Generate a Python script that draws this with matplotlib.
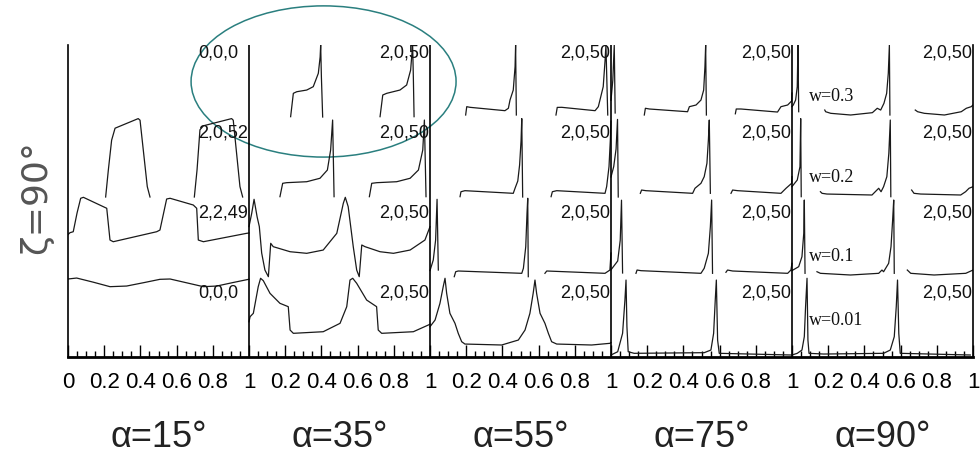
import matplotlib
matplotlib.use("Agg")
import matplotlib.pyplot as plt
from matplotlib.patches import Ellipse
import numpy as np

# panel titles and per-row labels (rows listed bottom -> top)
alphas = ["α=15°", "α=35°", "α=55°", "α=75°", "α=90°"]
labels_a15 = ["0,0,0", "2,2,49", "2,0,52", "0,0,0"]
labels_other = ["2,0,50", "2,0,50", "2,0,50", "2,0,50"]
w_labels = ["w=0.01", "w=0.1", "w=0.2", "w=0.3"]
tick_labels = ["0", "0.2", "0.4", "0.6", "0.8"] + ["1", "0.2", "0.4", "0.6", "0.8"] * 4 + ["1"]

# curves; per panel: rows bottom->top, each row a list of segments (x, y) in panel units
curves_a15 = [
    [[(0.0, 0.975), (0.048, 0.987), (0.14, 0.935), (0.232, 0.879), (0.324, 0.887), (0.42, 0.93),
      (0.508, 0.971), (0.564, 0.975), (0.66, 0.925), (0.748, 0.879), (0.822, 0.887), (0.91, 0.93), (1.0, 0.972)]],
    [[(0.0, 0.53), (0.011, 0.554), (0.029, 0.566), (0.050, 0.80), (0.070, 0.984), (0.085, 0.996),
      (0.195, 0.879), (0.214, 0.859), (0.232, 0.462), (0.250, 0.441), (0.490, 0.566), (0.508, 0.587),
      (0.545, 0.975), (0.564, 0.984), (0.692, 0.90), (0.711, 0.859), (0.72, 0.462), (0.748, 0.441),
      (0.987, 0.546), (1.0, 0.55)]],
    [[(0.208, 0.0), (0.223, 0.34), (0.241, 0.71), (0.26, 0.86), (0.324, 0.92), (0.388, 0.98),
      (0.398, 0.96), (0.438, 0.13), (0.453, 0.0)],
     [(0.698, 0.0), (0.713, 0.34), (0.729, 0.84), (0.748, 0.89), (0.904, 0.98), (0.913, 0.96),
      (0.950, 0.13), (0.965, 0.0)]],
    [],
]

curves_a35 = [
    [[(0.0, 0.44), (0.006, 0.504), (0.024, 0.546), (0.051, 0.879), (0.064, 0.984), (0.079, 0.954),
      (0.116, 0.796), (0.171, 0.671), (0.217, 0.629), (0.227, 0.337), (0.245, 0.296), (0.410, 0.316),
      (0.503, 0.421), (0.540, 0.629), (0.558, 0.962), (0.573, 0.984), (0.595, 0.921), (0.650, 0.712),
      (0.705, 0.629), (0.714, 0.337), (0.733, 0.296), (0.908, 0.316), (0.991, 0.40), (1.0, 0.41)]],
    [[(0.0, 0.63), (0.015, 0.796), (0.028, 0.971), (0.045, 0.75), (0.057, 0.63), (0.07, 0.30),
      (0.088, 0.087), (0.107, 0.004), (0.12, 0.421), (0.134, 0.379), (0.227, 0.316), (0.319, 0.296),
      (0.410, 0.337), (0.485, 0.546), (0.521, 0.921), (0.532, 0.996), (0.548, 0.879), (0.576, 0.379),
      (0.595, 0.087), (0.609, 0.004), (0.623, 0.40), (0.641, 0.379), (0.724, 0.316), (0.798, 0.296),
      (0.890, 0.337), (0.972, 0.462), (1.0, 0.629)]],
    [[(0.171, 0.004), (0.186, 0.171), (0.208, 0.179), (0.319, 0.191), (0.392, 0.234), (0.433, 0.337),
      (0.451, 0.587), (0.462, 0.962), (0.470, 0.004)],
     [(0.665, 0.004), (0.678, 0.171), (0.706, 0.179), (0.816, 0.191), (0.890, 0.234), (0.936, 0.337),
      (0.960, 0.587), (0.969, 0.962), (0.978, 0.004)]],
    [[(0.230, 0.004), (0.245, 0.296), (0.264, 0.316), (0.319, 0.337), (0.355, 0.379), (0.383, 0.546),
      (0.393, 0.75), (0.396, 0.90), (0.400, 0.50), (0.407, 0.0)],
     [(0.724, 0.004), (0.739, 0.275), (0.761, 0.296), (0.834, 0.337), (0.871, 0.40), (0.893, 0.587),
      (0.904, 0.90), (0.908, 0.50), (0.912, 0.004)]],
]

curves_a55 = [
    [[(0.0, 0.379), (0.028, 0.462), (0.055, 0.671), (0.073, 0.879), (0.083, 0.984), (0.092, 0.796),
      (0.110, 0.546), (0.138, 0.421), (0.156, 0.296), (0.175, 0.191), (0.193, 0.162), (0.396, 0.15),
      (0.488, 0.212), (0.525, 0.337), (0.552, 0.546), (0.570, 0.796), (0.580, 0.962), (0.589, 0.796),
      (0.608, 0.546), (0.635, 0.421), (0.654, 0.296), (0.672, 0.191), (0.700, 0.162), (0.893, 0.15),
      (0.994, 0.171), (1.0, 0.18)]],
    [[(0.0, 0.08), (0.018, 0.212), (0.031, 0.462), (0.039, 0.971), (0.046, 0.087)],
     [(0.134, 0.004), (0.142, 0.066), (0.156, 0.075), (0.507, 0.046), (0.516, 0.109), (0.529, 0.379),
      (0.536, 0.796), (0.540, 0.984), (0.543, 0.004)],
     [(0.635, 0.046), (0.645, 0.075), (0.967, 0.046), (0.994, 0.087), (1.0, 0.30)]],
    [[(0.166, 0.004), (0.171, 0.066), (0.193, 0.079), (0.460, 0.046), (0.470, 0.11), (0.485, 0.20),
      (0.495, 0.40), (0.503, 0.70), (0.507, 0.98), (0.512, 0.0)],
     [(0.669, 0.004), (0.676, 0.066), (0.700, 0.079), (0.967, 0.046), (0.976, 0.13), (0.989, 0.38),
      (0.996, 0.70), (1.0, 0.95)]],
    [[(0.197, 0.025), (0.203, 0.129), (0.221, 0.121), (0.414, 0.079), (0.433, 0.109), (0.442, 0.212),
      (0.460, 0.337), (0.470, 0.629), (0.473, 0.90), (0.477, 0.025)],
     [(0.696, 0.025), (0.703, 0.12), (0.728, 0.121), (0.912, 0.079), (0.930, 0.129), (0.939, 0.212),
      (0.957, 0.379), (0.967, 0.70), (0.972, 0.90), (0.982, 0.025)]],
]

curves_a75 = [
    [[(0.0, 0.025), (0.037, 0.066), (0.064, 0.296), (0.077, 0.712), (0.083, 0.962), (0.088, 0.379),
      (0.095, 0.066), (0.128, 0.046), (0.515, 0.054), (0.552, 0.087), (0.567, 0.296), (0.576, 0.712),
      (0.582, 0.962), (0.589, 0.212), (0.598, 0.046), (0.994, 0.025)]],
    [[(0.0, 0.09), (0.037, 0.20), (0.051, 0.46), (0.058, 0.96), (0.064, 0.05)],
     [(0.138, 0.046), (0.144, 0.087), (0.166, 0.079), (0.497, 0.046), (0.515, 0.109), (0.538, 0.296),
      (0.549, 0.629), (0.556, 0.962), (0.561, 0.046)],
     [(0.635, 0.059), (0.644, 0.087), (0.672, 0.075), (0.976, 0.046), (0.994, 0.087), (1.0, 0.171)]],
    [[(0.0, 0.25), (0.015, 0.38), (0.028, 0.60), (0.036, 0.97), (0.040, 0.0)],
     [(0.162, 0.046), (0.169, 0.087), (0.193, 0.079), (0.451, 0.046), (0.464, 0.109), (0.497, 0.171),
      (0.515, 0.254), (0.530, 0.421), (0.538, 0.712), (0.543, 0.962), (0.549, 0.046)],
     [(0.663, 0.046), (0.672, 0.087), (0.700, 0.079), (0.939, 0.046), (0.967, 0.109), (0.998, 0.171),
      (1.0, 0.254)]],
    [[(0.0, 0.21), (0.010, 0.46), (0.018, 0.90), (0.023, 0.05)],
     [(0.184, 0.025), (0.190, 0.109), (0.212, 0.10), (0.423, 0.066), (0.433, 0.129), (0.470, 0.15),
      (0.497, 0.212), (0.512, 0.337), (0.519, 0.629), (0.523, 0.90), (0.527, 0.025)],
     [(0.687, 0.04), (0.692, 0.10), (0.718, 0.10), (0.920, 0.062), (0.939, 0.129), (0.976, 0.15),
      (0.998, 0.20), (1.0, 0.30)]],
]

curves_a90 = [
    [[(0.0, 0.025), (0.029, 0.046), (0.055, 0.087), (0.068, 0.254), (0.075, 0.629), (0.083, 0.984),
      (0.088, 0.212), (0.094, 0.046), (0.175, 0.037), (0.506, 0.046), (0.543, 0.087), (0.565, 0.254),
      (0.576, 0.629), (0.583, 0.962), (0.590, 0.296), (0.598, 0.046), (0.985, 0.025)]],
    [[(0.0, 0.08), (0.037, 0.129), (0.055, 0.254), (0.065, 0.546), (0.068, 0.962), (0.072, 0.046)],
     [(0.138, 0.066), (0.157, 0.046), (0.323, 0.025), (0.479, 0.046), (0.497, 0.087), (0.506, 0.066),
      (0.534, 0.171), (0.547, 0.379), (0.556, 0.712), (0.562, 0.962), (0.565, 0.046)],
     [(0.637, 0.087), (0.656, 0.046), (0.785, 0.025), (0.960, 0.046), (1.0, 0.087)]],
    [[(0.0, 0.13), (0.007, 0.15), (0.029, 0.212), (0.044, 0.379), (0.048, 0.98), (0.051, 0.004)],
     [(0.157, 0.066), (0.166, 0.046), (0.193, 0.037), (0.442, 0.025), (0.460, 0.066), (0.479, 0.109),
      (0.492, 0.066), (0.506, 0.129), (0.524, 0.254), (0.535, 0.546), (0.543, 0.962), (0.546, 0.004)],
     [(0.661, 0.087), (0.674, 0.046), (0.711, 0.037), (0.932, 0.025), (0.959, 0.066), (0.978, 0.109),
      (1.0, 0.129)]],
    [[(0.0, 0.13), (0.007, 0.15), (0.020, 0.212), (0.029, 0.379), (0.033, 0.90), (0.037, 0.066)],
     [(0.181, 0.087), (0.186, 0.066), (0.214, 0.046), (0.324, 0.025), (0.444, 0.054), (0.471, 0.109),
      (0.490, 0.087), (0.508, 0.171), (0.523, 0.296), (0.532, 0.546), (0.538, 0.90), (0.541, 0.025)],
     [(0.681, 0.087), (0.694, 0.066), (0.731, 0.046), (0.842, 0.025), (0.935, 0.066), (0.963, 0.109),
      (0.990, 0.129), (1.0, 0.15)]],
]

panels = [curves_a15, curves_a35, curves_a55, curves_a75, curves_a90]
row_labels = [labels_a15] + [labels_other] * 4

narrow = ["Liberation Sans Narrow", "Liberation Sans", "DejaVu Sans"]

fig = plt.figure(figsize=(9.8, 4.55), dpi=100)
ax = fig.add_axes([68 / 980, 98 / 455, 905 / 980, 312 / 455])
ax.set_xlim(0, 5)
ax.set_ylim(0, 3.9)

for p, rows in enumerate(panels):
    for r, segs in enumerate(rows):
        for seg in segs:
            xy = np.array(seg)
            ax.plot(p + xy[:, 0], r + xy[:, 1], color="#1a1a1a", lw=0.9)
    for r, lab in enumerate(row_labels[p]):
        ax.text(p + 0.72, r + 0.9, lab, ha="left", va="top", fontsize=13,
                family=["Liberation Sans", "DejaVu Sans"], color="#111")
    ax.text(p + 0.5, -1.01, alphas[p], ha="center", va="center", fontsize=26,
            family=narrow, color="#222", clip_on=False)

for r, lab in enumerate(w_labels):
    ax.text(4.094, r + [0.46, 0.26, 0.24, 0.25][r], lab, ha="left", va="center", fontsize=13,
            family=["Liberation Serif", "DejaVu Serif"], color="#111")

# panel separators
for k in range(1, 5):
    ax.axvline(k, color="black", lw=1.2)

ax.spines["top"].set_visible(False)
ax.spines["bottom"].set_linewidth(2)
ax.spines["left"].set_linewidth(1.2)
ax.spines["right"].set_linewidth(1.2)

major = np.round(np.arange(0, 5.01, 0.2), 2)
minor = [t for t in np.round(np.arange(0, 5.01, 0.05), 2) if abs(t / 0.2 - round(t / 0.2)) > 1e-6]
ax.set_xticks(major, tick_labels)
ax.set_xticks(minor, minor=True)
ax.set_yticks([])
ax.tick_params(axis="x", which="major", direction="in", length=9, width=1, pad=11,
               labelsize=16)
ax.tick_params(axis="x", which="minor", direction="in", length=4.5, width=1)
for t in ax.get_xticklabels():
    t.set_family(narrow)

fig.text(36 / 980, 1 - 197 / 455, "ζ=90°", rotation=90, ha="center", va="center",
         fontsize=26, color="#555")

ell = Ellipse((1.412, 3.444), 1.464, 1.89, fill=False, edgecolor="#2a7f7f", lw=1.1,
              clip_on=False)
ax.add_patch(ell)

fig.savefig("out.png", dpi=100)
